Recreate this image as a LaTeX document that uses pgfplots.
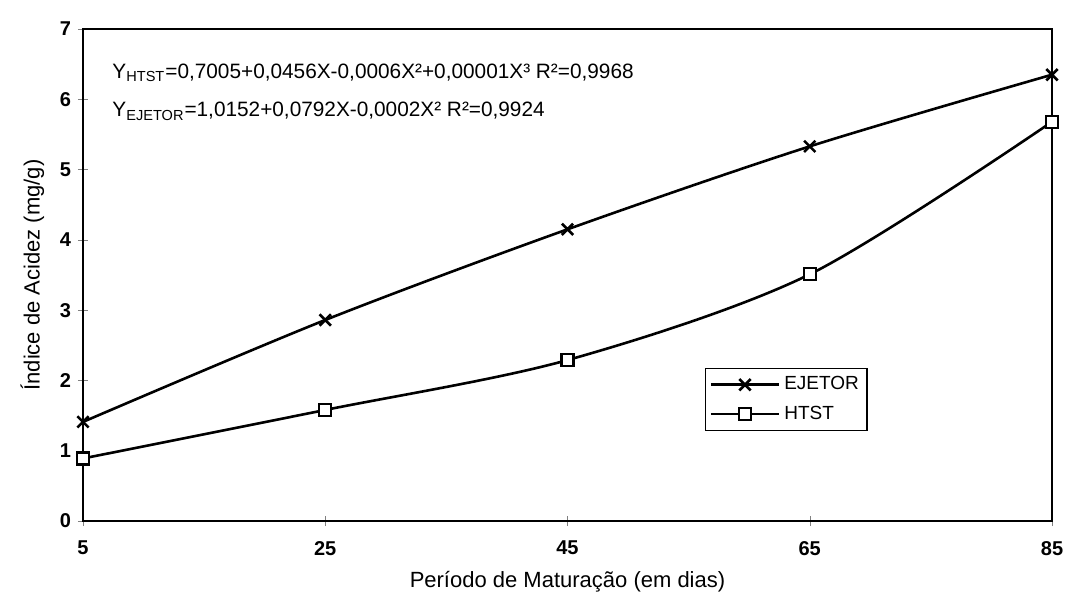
\documentclass[border=0pt]{standalone}
\usepackage{fontspec}
\setmainfont{Liberation Sans}
\usepackage{pgfplots}
\pgfplotsset{compat=1.18}

\begin{document}
\begin{tikzpicture}
\begin{axis}[name=ax,anchor=origin,at={(0,0)},
scale only axis,width=484.5pt,height=246pt,
xmin=5,xmax=85,ymin=0,ymax=7,
xtick={5,25,45,65,85},ytick={0,1,2,3,4,5,6,7},
tick align=center,xtick pos=bottom,ytick pos=left,
major tick length=5pt,
/pgf/number format/assume math mode=true,
ticklabel style={font=\bfseries\fontsize{10}{12}\selectfont},
xticklabel style={yshift=-4pt},
axis line style={line width=1.3pt},
xlabel={Período de Maturação (em dias)},
ylabel={Índice de Acidez (mg/g)},
label style={font=\fontsize{11}{13}\selectfont},
xlabel style={yshift=-1pt},
ylabel style={yshift=1pt},
legend style={at={(0.642,0.311)},anchor=north west,font=\fontsize{9.5}{11}\selectfont,
 draw=black,line width=0.6pt,row sep=2.5pt,inner sep=2pt},
legend cell align=left,
legend image code/.code={\draw[mark repeat=2,mark phase=2,#1,line width=1.3pt]
 plot coordinates {(0pt,0pt) (17pt,0pt) (34pt,0pt)};},
clip=false]
\addplot[black,line width=1.3pt,smooth,mark=x,mark size=4pt,mark options={line width=1.3pt}]
coordinates {(5,1.41) (25,2.86) (45,4.15) (65,5.33) (85,6.35)};
\addlegendentry{EJETOR}
\addplot[black,line width=1.3pt,smooth,mark=square*,mark size=3pt,mark options={fill=white,line width=1.1pt}]
coordinates {(5,0.89) (25,1.58) (45,2.29) (65,3.51) (85,5.68)};
\addlegendentry{HTST}
\node[anchor=west,font=\fontsize{10.4}{12}\selectfont,inner sep=0pt] at (rel axis cs:0.03,0.911)
 {Y\textsubscript{HTST}=0,7005+0,0456X-0,0006X²+0,00001X³ R²=0,9968};
\node[anchor=west,font=\fontsize{10.4}{12}\selectfont,inner sep=0pt] at (rel axis cs:0.03,0.833)
 {Y\textsubscript{EJETOR}=1,0152+0,0792X-0,0002X² R²=0,9924};
\end{axis}
\pgfresetboundingbox
\path[use as bounding box] (-41.5pt,-40.5pt) rectangle (491.5pt,260.5pt);
\end{tikzpicture}
\end{document}
